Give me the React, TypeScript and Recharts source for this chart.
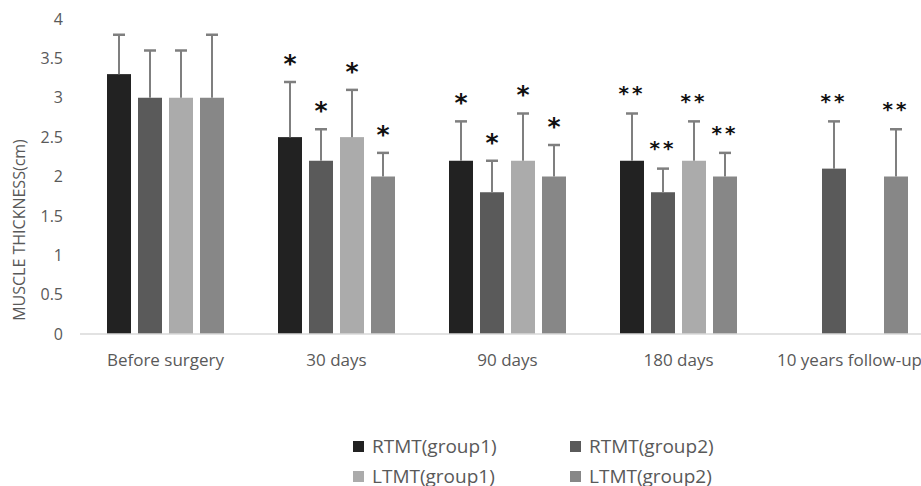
import React from 'react';
import { BarChart, Bar, XAxis, YAxis, Legend } from 'recharts';

const categories = ['Before surgery', '30 days', '90 days', '180 days', '10 years follow-up'];

const rtmtG1 = [3.3, 2.5, 2.2, 2.2, null];
const rtmtG2 = [3.0, 2.2, 1.8, 1.8, 2.1];
const ltmtG1 = [3.0, 2.5, 2.2, 2.2, null];
const ltmtG2 = [3.0, 2.0, 2.0, 2.0, 2.0];

const rtmtG1Sd = [0.5, 0.7, 0.5, 0.6, null];
const rtmtG2Sd = [0.6, 0.4, 0.4, 0.3, 0.6];
const ltmtG1Sd = [0.6, 0.6, 0.6, 0.5, null];
const ltmtG2Sd = [0.8, 0.3, 0.4, 0.3, 0.6];

const rtmtG1Sig = ['', '*', '*', '**', ''];
const rtmtG2Sig = ['', '*', '*', '**', '**'];
const ltmtG1Sig = ['', '*', '*', '**', ''];
const ltmtG2Sig = ['', '*', '*', '**', '**'];

const yTicks = [0, 0.5, 1, 1.5, 2, 2.5, 3, 3.5, 4];

const series = [
  { key: 'rg1', name: 'RTMT(group1)', color: '#222222', values: rtmtG1, sd: rtmtG1Sd, sig: rtmtG1Sig },
  { key: 'rg2', name: 'RTMT(group2)', color: '#5a5a5a', values: rtmtG2, sd: rtmtG2Sd, sig: rtmtG2Sig },
  { key: 'lg1', name: 'LTMT(group1)', color: '#ababab', values: ltmtG1, sd: ltmtG1Sd, sig: ltmtG1Sig },
  { key: 'lg2', name: 'LTMT(group2)', color: '#878787', values: ltmtG2, sd: ltmtG2Sd, sig: ltmtG2Sig },
];

const data = categories.map((cat, i) => {
  const row: any = { cat };
  series.forEach((s) => {
    row[s.key] = s.values[i];
    row[s.key + 'Sd'] = s.sd[i];
    row[s.key + 'Sig'] = s.sig[i];
  });
  return row;
});

const FONT = '"Open Sans", sans-serif';
const TEXT = '#595959';

// bar + upward error whisker + significance stars
const makeShape = (key: string, color: string) => (props: any) => {
  const { x, y, width, height, payload } = props;
  const val = payload[key];
  if (val == null || !height) return <g />;
  const sd = payload[key + 'Sd'] || 0;
  const sig = payload[key + 'Sig'];
  const cx = x + width / 2;
  const errY = y - (sd * height) / val;
  const single = sig === '*';
  const fs = single ? 25 : 20;
  const starCenter = errY - 25;
  return (
    <g>
      <rect x={x} y={y} width={width} height={height} fill={color} />
      <line x1={cx} x2={cx} y1={y} y2={errY} stroke="#7f7f7f" strokeWidth={2} />
      <line x1={cx - 6} x2={cx + 6} y1={errY} y2={errY} stroke="#7f7f7f" strokeWidth={2.5} />
      {sig ? (
        <text
          x={cx}
          y={starCenter + fs * 0.59}
          textAnchor="middle"
          fontFamily='"DejaVu Sans", sans-serif'
          fontWeight="bold"
          fontSize={fs}
          letterSpacing={single ? 0 : 3}
          fill="#111111"
        >
          {sig}
        </text>
      ) : null}
    </g>
  );
};

// legend follows series order (RTMT first), two columns
const renderLegend = () => (
  <div style={{ display: 'grid', gridTemplateColumns: '217px 217px', fontFamily: FONT }}>
    {series.map((s) => (
      <div key={s.key} style={{ display: 'flex', alignItems: 'center', height: 30 }}>
        <span style={{ display: 'inline-block', width: 11, height: 11, background: s.color, marginRight: 8 }} />
        <span style={{ fontSize: 19, color: TEXT, lineHeight: '30px' }}>{s.name}</span>
      </div>
    ))}
  </div>
);

const YLabel = () => (
  <text
    x={25}
    y={230}
    transform="rotate(-90, 25, 230)"
    textAnchor="middle"
    fontFamily={FONT}
    fontSize={16}
    fill={TEXT}
  >
    MUSCLE THICKNESS(cm)
  </text>
);

export default function App() {
  return (
    <div style={{ position: 'fixed', left: 0, top: 0, width: 921, height: 486, overflow: 'hidden', background: '#fff' }}>
      <BarChart
        width={940}
        height={486}
        data={data}
        margin={{ top: 19, right: 5, left: 0, bottom: 122 }}
        barSize={24}
        barGap={7}
      >
        <XAxis
          dataKey="cat"
          axisLine={{ stroke: '#d9d9d9', strokeWidth: 1.5 }}
          tickLine={false}
          tickSize={0}
          tickMargin={20}
          height={30}
          interval={0}
          tick={{ fill: TEXT, fontSize: 17, fontFamily: FONT }}
        />
        <YAxis
          domain={[0, 4]}
          ticks={yTicks}
          width={80}
          axisLine={false}
          tickLine={false}
          tickSize={0}
          tickMargin={17}
          tick={{ fill: TEXT, fontSize: 16, fontFamily: FONT }}
          label={<YLabel />}
        />
        <Legend
          layout="horizontal"
          verticalAlign="middle"
          align="center"
          content={renderLegend}
          wrapperStyle={{ top: 431, left: 353, width: 440, height: 60 }}
        />
        {series.map((s) => (
          <Bar
            key={s.key}
            dataKey={s.key}
            name={s.name}
            fill={s.color}
            isAnimationActive={false}
            shape={makeShape(s.key, s.color)}
          />
        ))}
      </BarChart>
    </div>
  );
}
